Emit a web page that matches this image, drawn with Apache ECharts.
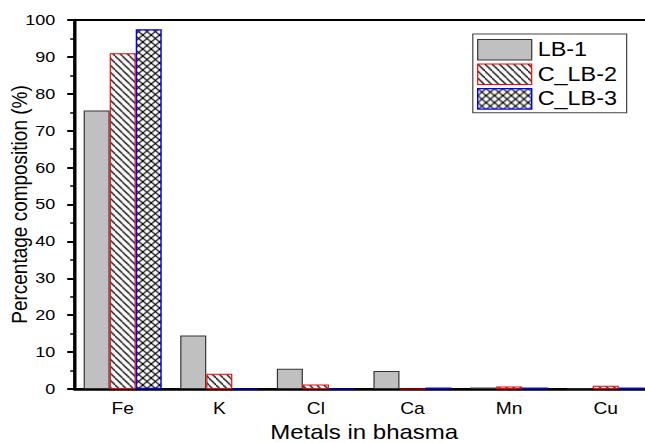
<!DOCTYPE html>
<html>
<head>
<meta charset="utf-8">
<script src="https://cdn.jsdelivr.net/npm/echarts@6/dist/echarts.min.js"></script>
<style>
  html, body { margin: 0; padding: 0; background: #fff; overflow: hidden; }
  /* the reference figure is stretched sideways, so draw narrower and scale */
  #main { width: 537.5px; height: 443px; transform: scaleX(1.2); transform-origin: 0 0; }
</style>
</head>
<body>
<div id="main"></div>
<script>
const categories = ['Fe', 'K', 'Cl', 'Ca', 'Mn', 'Cu']
const seriesNames = ['LB-1', 'C_LB-2', 'C_LB-3']
const lb1 = [75.5, 14.5, 5.5, 4.9, 0.4, 0.2]
const clb2 = [91, 4.1, 1.2, 0, 0.7, 0.9]
const clb3 = [97.5, 0, 0, 0.4, 0.4, 0.4]
const yMin = 0
const yMax = 100
const yStep = 10

// hatch patterns
function makeHatch(w, h, cross) {
  const c = document.createElement('canvas')
  c.width = w
  c.height = h
  const ctx = c.getContext('2d')
  ctx.fillStyle = '#fff'
  ctx.fillRect(0, 0, w, h)
  ctx.strokeStyle = '#000'
  ctx.lineWidth = 1.2
  for (let k = -1; k <= 1; k++) {
    ctx.beginPath()
    ctx.moveTo(k * w, 0)
    ctx.lineTo(k * w + w, h)
    ctx.stroke()
    if (cross) {
      ctx.beginPath()
      ctx.moveTo(k * w + w, 0)
      ctx.lineTo(k * w, h)
      ctx.stroke()
    }
  }
  return { image: c.toDataURL(), repeat: 'repeat', imageWidth: w, imageHeight: h }
}

const styles = [
  { color: '#c0c0c0', borderColor: '#333', borderWidth: 1 },
  { color: makeHatch(6, 7, false), borderColor: '#ff0000', borderWidth: 1 },
  { color: makeHatch(7, 7, true), borderColor: '#0000ff', borderWidth: 1.2 }
]
const values = [lb1, clb2, clb3]

const chart = echarts.init(document.getElementById('main'), null, { renderer: 'svg' })

const option = {
  animation: false,
  textStyle: { fontFamily: 'Liberation Sans' },
  grid: {
    left: 62,
    right: -7,
    top: 20,
    bottom: 54,
    outerBoundsMode: 'none',
    containLabel: false,
    show: true,
    borderColor: '#000',
    borderWidth: 2
  },
  legend: {
    orient: 'vertical',
    left: 394,
    top: 34,
    icon: 'rect',
    itemWidth: 45,
    itemHeight: 20.5,
    itemGap: 3,
    padding: [5, 8, 3, 3.5],
    borderColor: '#444',
    borderWidth: 1,
    backgroundColor: '#fff',
    textStyle: { fontSize: 19.5, color: '#000' },
    data: seriesNames.map((n, i) => ({ name: n, itemStyle: styles[i] }))
  },
  xAxis: [
    {
      type: 'category',
      data: categories,
      position: 'bottom',
      axisLine: { lineStyle: { color: '#000', width: 2.5 } },
      axisTick: { alignWithLabel: true, length: 6, lineStyle: { color: '#000', width: 1.7 } },
      axisLabel: { color: '#000', fontSize: 16, margin: 12 },
      name: 'Metals in bhasma',
      nameLocation: 'middle',
      nameGap: 31,
      nameTextStyle: { fontSize: 20, color: '#000' }
    },
    {
      // ticks between the categories
      type: 'category',
      data: categories,
      position: 'bottom',
      axisLine: { show: false },
      axisTick: { length: 4, lineStyle: { color: '#000', width: 1.7 } },
      axisLabel: { show: false }
    }
  ],
  yAxis: {
    type: 'value',
    min: yMin,
    max: yMax,
    interval: yStep,
    axisLine: { show: true, lineStyle: { color: '#000', width: 2.5 } },
    axisTick: { show: true, length: 6, lineStyle: { color: '#000', width: 2 } },
    minorTick: { show: true, splitNumber: 2, length: 3.5, lineStyle: { color: '#000', width: 1.5 } },
    splitLine: { show: false },
    axisLabel: { color: '#000', fontSize: 15, margin: 16 },
    name: 'Percentage composition (%)',
    nameLocation: 'middle',
    nameMoveOverlap: false,
    nameGap: 37,
    nameTextStyle: { fontSize: 19, color: '#000' }
  },
  series: seriesNames.map((n, i) => ({
    name: n,
    type: 'bar',
    xAxisIndex: 0,
    barWidth: 21.7,
    barGap: '0%',
    itemStyle: styles[i],
    data: values[i]
  }))
}

chart.setOption(option)
</script>
</body>
</html>
